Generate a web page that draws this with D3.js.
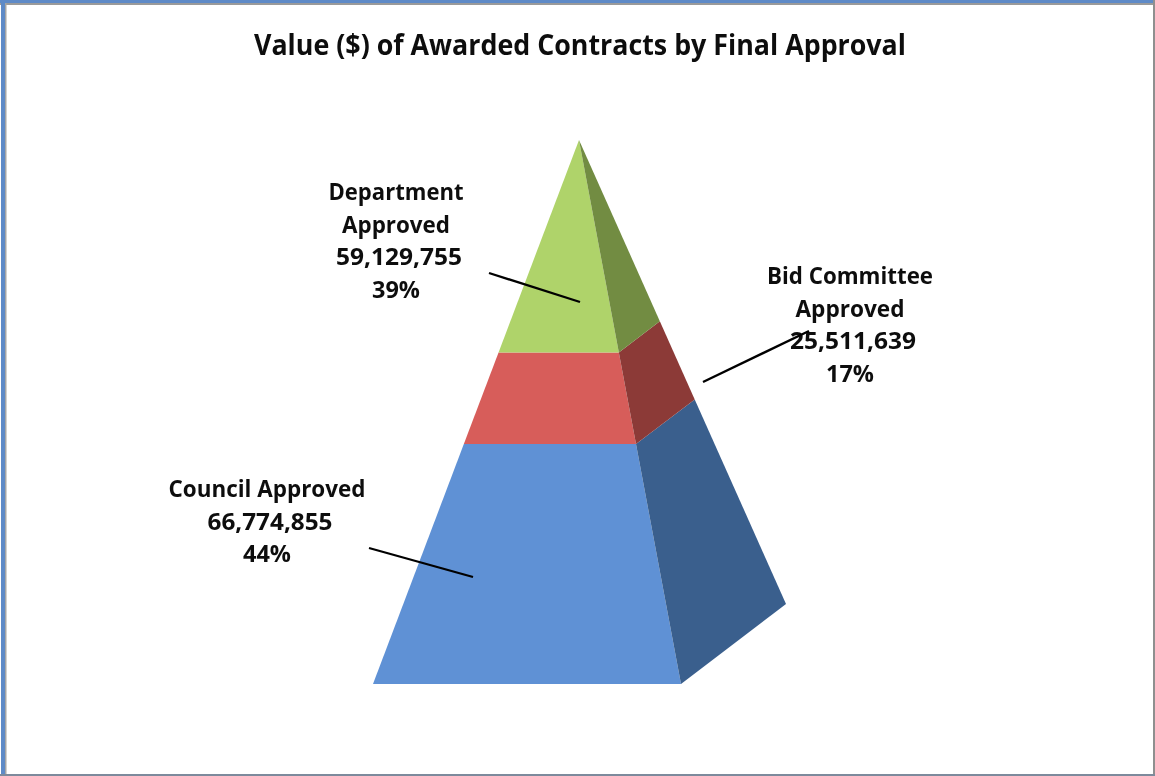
<!DOCTYPE html>
<html><head><meta charset="utf-8">
<script src="https://cdn.jsdelivr.net/npm/d3@7"></script>
<style>
html,body{margin:0;padding:0;background:#fff}
svg{display:block}
text{font-family:"Open Sans","Noto Sans",sans-serif;font-weight:700;fill:#111;text-anchor:middle}
</style></head><body>
<svg id="c" width="1155" height="776"></svg>
<script>
const titleText = "Value ($) of Awarded Contracts by Final Approval";
const categories = ["Council Approved", "Bid Committee Approved", "Department Approved"];
const values = [66774855, 25511639, 59129755];
const percents = ["44%", "17%", "39%"];
const frontColors = ["#5F91D5", "#D75D5A", "#AFD36A"];
const sideColors = ["#3A5F8D", "#8C3A37", "#728C42"];
const labelLines = [
  ["Council Approved", "66,774,855", "44%"],
  ["Bid Committee", "Approved", "25,511,639", "17%"],
  ["Department", "Approved", "59,129,755", "39%"]
];

const svg = d3.select("#c");
const W = 1155, H = 776;

const defs = svg.append("defs");
defs.append("filter").attr("id","soft").attr("x","-5%").attr("y","-5%").attr("width","110%").attr("height","110%")
  .append("feGaussianBlur").attr("stdDeviation",0.45);

// frame
svg.append("rect").attr("x",0).attr("y",0).attr("width",W).attr("height",H).attr("fill","#fff");
svg.append("rect").attr("x",0).attr("y",0).attr("width",W).attr("height",3).attr("fill","#5E8AC7");
svg.append("rect").attr("x",0).attr("y",3).attr("width",W).attr("height",2).attr("fill","#9a9a9a");
svg.append("rect").attr("x",1).attr("y",0).attr("width",4).attr("height",H).attr("fill","#5E8AC7");
svg.append("rect").attr("x",5).attr("y",3).attr("width",1.5).attr("height",H).attr("fill","#a5a5a5");
svg.append("rect").attr("x",1153).attr("y",0).attr("width",2).attr("height",H).attr("fill","#8f8f8f");
svg.append("rect").attr("x",0).attr("y",774).attr("width",W).attr("height",2).attr("fill","#7d8a9c");

// pyramid geometry
const apex = [579, 140];
const baseLeft = [373, 684], baseFront = [681, 684], baseBack = [786, 604];
const total = d3.sum(values);
const edge = (p) => {
  const sx = d3.scaleLinear().domain([0,total]).range([p[0],apex[0]]);
  const sy = d3.scaleLinear().domain([0,total]).range([p[1],apex[1]]);
  return v => [sx(v), sy(v)];
};
const L = edge(baseLeft), F = edge(baseFront), B = edge(baseBack);
const cum = d3.cumsum(values);
const line = d3.line();

values.forEach((v,i) => {
  const lo = i ? cum[i-1] : 0, hi = cum[i];
  svg.append("path").attr("d", line([L(lo),F(lo),F(hi),L(hi)])+"Z").attr("fill",frontColors[i]);
  svg.append("path").attr("d", line([F(lo),B(lo),B(hi),F(hi)])+"Z").attr("fill",sideColors[i]);
});

const textLayer = svg.append("g").attr("filter","url(#soft)");

// title
textLayer.append("text").attr("x",580).attr("y",55).attr("font-size",29)
  .attr("textLength",652).attr("lengthAdjust","spacingAndGlyphs").text(titleText);

// labels
const labelPos = [{x:267,y:497,dy:32.5},{x:850,y:284,dy:32.5},{x:396,y:200,dy:32.5}];
const labelWidths = [[197,125,48],[166,109,126,48],[135,108,126,48]];
const labelNudge = [[0,3,0],[0,0,3,0],[0,0,3,0]];
labelLines.forEach((ls,i) => {
  ls.forEach((t,j) => {
    textLayer.append("text").attr("x",labelPos[i].x+labelNudge[i][j]).attr("y",labelPos[i].y+j*labelPos[i].dy)
      .attr("font-size",23).attr("textLength",labelWidths[i][j]).attr("lengthAdjust","spacingAndGlyphs").text(t);
  });
});

// leader lines
const leaders = [[[369,548],[473,577]],[[703,382],[809,331]],[[489,273],[580,302]]];
leaders.forEach(l => svg.append("path").attr("d",line(l)).attr("stroke","#000").attr("stroke-width",2.3).attr("fill","none"));
</script>
</body></html>
